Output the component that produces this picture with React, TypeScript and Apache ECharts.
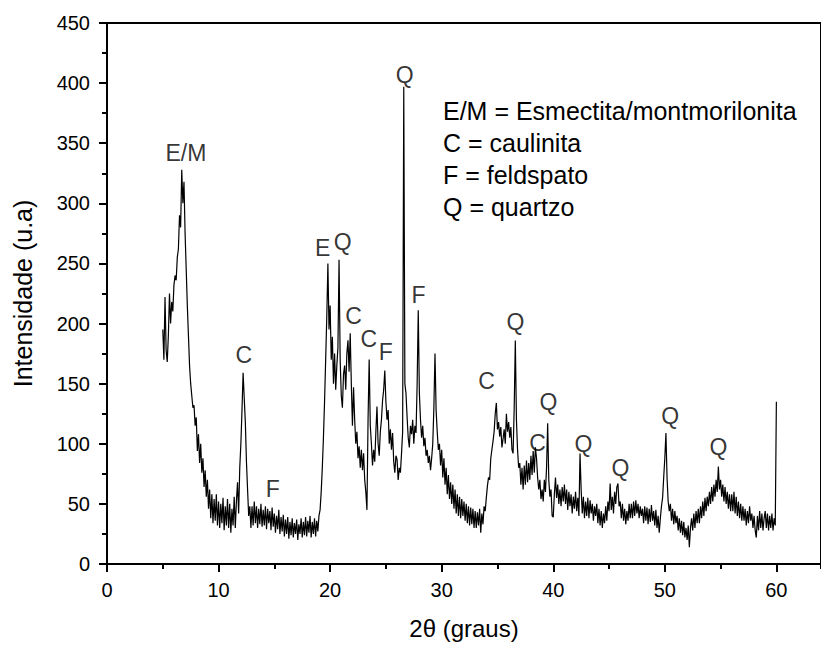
import React, { useEffect, useRef } from "react";
import * as echarts from "echarts";

// XRD scan: 2θ from 5.0° in 0.1° steps
const scanStart = 5.0;
const scanStep = 0.1;
const intensity: number[] = [
  195, 170, 222, 178, 168, 190, 225, 200, 218, 210,
  232, 240, 236, 255, 262, 290, 280, 328, 300, 318,
  275, 245, 215, 190, 165, 150, 140, 130, 132, 115,
  122, 94, 108, 84, 100, 76, 88, 64, 78, 56,
  70, 46, 62, 38, 58, 34, 54, 36, 58, 32,
  52, 30, 50, 34, 55, 28, 48, 32, 54, 30,
  50, 26, 46, 32, 56, 30, 52, 68, 42, 80,
  100, 128, 159, 138, 118, 85, 62, 40, 48, 30,
  48, 32, 52, 34, 48, 30, 46, 33, 50, 31,
  45, 32, 48, 29, 46, 34, 44, 28, 47, 31,
  42, 26, 40, 29, 45, 25, 39, 27, 41, 23,
  37, 25, 39, 21, 35, 24, 38, 22, 34, 25,
  37, 20, 33, 25, 38, 22, 35, 24, 39, 23,
  36, 26, 40, 22, 35, 25, 38, 23, 36, 27,
  40, 45, 60, 80, 105, 135, 170, 205, 250, 195,
  215, 170, 189, 150, 175, 145, 165, 180, 253, 170,
  140, 130, 158, 165, 145, 175, 186, 160, 192, 150,
  115, 147, 120, 100, 110, 88, 98, 80, 95, 78,
  92, 70, 60, 45, 120, 170, 115, 100, 82, 95,
  85, 110, 131, 100, 90, 110, 120, 136, 145, 161,
  135, 120, 128, 100, 112, 95, 109, 85, 76, 90,
  87, 70, 80, 76, 92, 110, 397, 150, 142, 122,
  105, 97, 115, 108, 120, 100, 115, 109, 150, 211,
  142, 120, 105, 115, 98, 105, 90, 95, 84, 90,
  78, 88, 100, 130, 175, 128, 110, 95, 100, 82,
  95, 72, 88, 66, 80, 58, 74, 54, 68, 50,
  66, 46, 62, 42, 58, 40, 56, 38, 54, 40,
  52, 36, 50, 34, 48, 32, 47, 33, 46, 30,
  44, 30, 43, 32, 46, 26, 42, 33, 48, 44,
  55, 65, 72, 70, 88, 95, 102, 110, 125, 134,
  112, 118, 106, 114, 97, 104, 112, 100, 125, 110,
  118, 105, 114, 95, 92, 130, 186, 120, 95, 80,
  84, 66, 80, 62, 82, 66, 86, 68, 84, 70,
  90, 74, 94, 76, 97, 88, 72, 62, 70, 54,
  62, 52, 70, 60, 80, 117, 70, 56, 62, 40,
  39, 58, 72, 55, 66, 50, 62, 48, 64, 52,
  66, 50, 62, 45, 60, 48, 58, 42, 56, 46,
  60, 44, 55, 40, 92, 62, 42, 56, 38, 52,
  40, 55, 38, 53, 42, 50, 36, 48, 40, 50,
  34, 46, 32, 44, 30, 42, 34, 48, 36, 52,
  44, 67, 45, 56, 42, 60, 50, 64, 67, 48,
  52, 38, 50, 36, 46, 33, 44, 36, 50, 38,
  50, 38, 52, 40, 53, 42, 50, 38, 48, 40,
  46, 34, 48, 36, 47, 33, 46, 35, 49, 36,
  44, 32, 45, 30, 40, 26, 38, 48, 55, 72,
  88, 109, 72, 52, 44, 50, 36, 46, 33, 44,
  34, 40, 28, 38, 26, 36, 24, 35, 22, 30,
  20, 32, 14, 30, 38, 28, 42, 30, 44, 34,
  46, 34, 48, 38, 52, 40, 55, 44, 56, 48,
  60, 50, 64, 52, 66, 56, 70, 60, 81, 62,
  70, 56, 66, 52, 64, 50, 60, 46, 58, 44,
  58, 44, 60, 42, 56, 40, 52, 38, 50, 36,
  48, 36, 46, 32, 44, 34, 48, 36, 42, 30,
  40, 28, 22, 40, 28, 44, 30, 42, 28, 38,
  44, 30, 42, 28, 40, 30, 42, 28, 38, 32,
  135,
];

// Phase annotations (label, 2θ, intensity position)
const peakNames = ["E/M", "C", "F", "E", "Q", "Q", "C", "C", "F", "F", "C", "Q", "C", "Q", "Q", "Q", "Q", "Q"];
const peakX = [7.07, 12.27, 14.86, 19.34, 21.13, 26.68, 22.11, 23.46, 24.98, 27.93, 34.02, 36.62, 38.59, 39.57, 42.7, 46.02, 50.49, 54.81];
const peakY = [342, 174, 62, 263, 268, 407, 206, 187, 176, 224, 152, 201, 101, 135, 100, 80, 123, 97];

const legendLines = [
  "E/M = Esmectita/montmorilonita",
  "C = caulinita",
  "F = feldspato",
  "Q = quartzo",
];
const xTitle = "2θ (graus)";
const yTitle = "Intensidade (u.a)";
const xMin = 0;
const xMax = 64;
const yMin = 0;
const yMax = 450;

const FONT = "'Liberation Sans', Arial, Helvetica, sans-serif";

export default function App() {
  const ref = useRef<HTMLDivElement>(null);

  useEffect(() => {
    if (!ref.current) return;
    const chart = echarts.init(ref.current, null, { renderer: "svg" });
    const lineData = intensity.map((v, i) => [
      Math.round((scanStart + i * scanStep) * 10) / 10,
      v,
    ]);
    const peakData = peakNames.map((n, i) => ({ name: n, value: [peakX[i], peakY[i]] }));
    const axisLineStyle = { color: "#000", width: 2 };

    chart.setOption({
      animation: false,
      backgroundColor: "#fff",
      grid: {
        left: 107,
        top: 23,
        width: 716,
        height: 541,
        show: true,
        borderColor: "#000",
        borderWidth: 2,
        backgroundColor: "transparent",
        containLabel: false,
      },
      xAxis: [
        {
          type: "value",
          min: xMin,
          max: xMax,
          interval: 10,
          position: "bottom",
          axisLine: { show: true, onZero: false, lineStyle: axisLineStyle },
          axisTick: { show: true, inside: false, length: 8, lineStyle: axisLineStyle },
          axisLabel: {
            show: true,
            margin: 16,
            color: "#000",
            fontSize: 20,
            fontFamily: FONT,
            showMaxLabel: false,
            formatter: (v: number) => (v % 10 === 0 && v <= 60 ? String(v) : ""),
          },
          splitLine: { show: false },
          name: xTitle,
          nameLocation: "middle",
          nameGap: 52,
          nameTextStyle: { color: "#000", fontSize: 24, fontFamily: FONT },
        },
        {
          type: "value",
          min: xMin,
          max: xMax,
          interval: 5,
          position: "bottom",
          axisLine: { show: false },
          axisTick: { show: true, inside: false, length: 5, lineStyle: axisLineStyle },
          axisLabel: { show: false },
          splitLine: { show: false },
        },
      ],
      yAxis: {
        type: "value",
        min: yMin,
        max: yMax,
        interval: 50,
        axisLine: { show: true, onZero: false, lineStyle: axisLineStyle },
        axisTick: { show: true, inside: false, length: 8, lineStyle: axisLineStyle },
        minorTick: { show: true, splitNumber: 2, length: 5, lineStyle: axisLineStyle },
        axisLabel: { margin: 17, color: "#000", fontSize: 20, fontFamily: FONT },
        splitLine: { show: false },
        minorSplitLine: { show: false },
        name: yTitle,
        nameLocation: "middle",
        nameRotate: 90,
        nameGap: 72,
        nameTextStyle: { color: "#000", fontSize: 25, fontFamily: FONT },
      },
      series: [
        {
          type: "line",
          xAxisIndex: 0,
          yAxisIndex: 0,
          data: lineData,
          symbol: "none",
          showSymbol: false,
          lineStyle: { color: "#000", width: 1.2 },
          silent: true,
          z: 2,
        },
        {
          type: "scatter",
          xAxisIndex: 0,
          yAxisIndex: 0,
          data: peakData,
          symbolSize: 1,
          itemStyle: { color: "rgba(0,0,0,0)" },
          label: {
            show: true,
            position: "inside",
            formatter: "{b}",
            color: "#000",
            fontSize: 23,
            fontFamily: FONT,
          },
          silent: true,
          z: 3,
        },
      ],
      graphic: [
        {
          type: "text",
          left: 443,
          top: 95,
          style: {
            text: legendLines.join("\n"),
            font: `25px ${FONT}`,
            lineHeight: 32,
            fill: "#000",
          },
        },
      ],
    });
    return () => chart.dispose();
  }, []);

  return (
    <div
      ref={ref}
      style={{ position: "absolute", left: 0, top: 0, width: 821, height: 646 }}
    />
  );
}
